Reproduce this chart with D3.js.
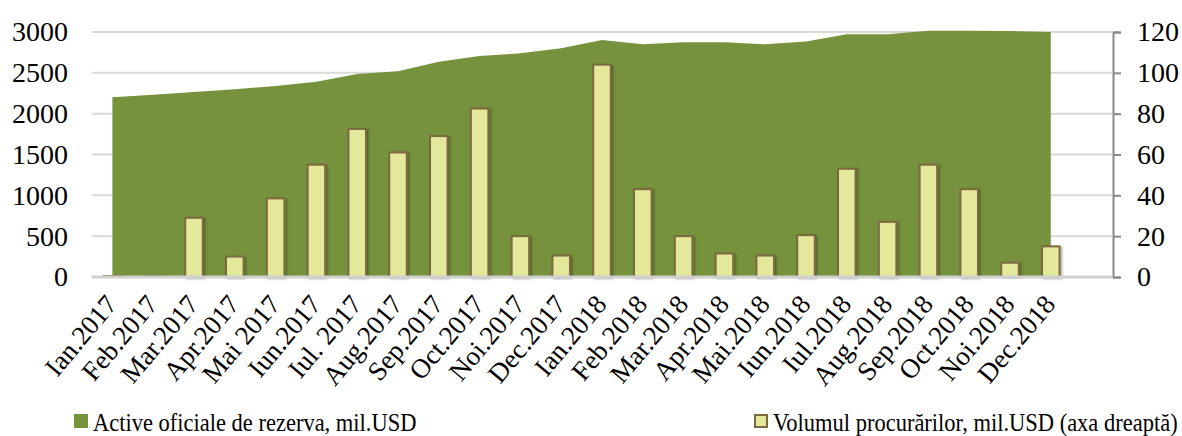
<!DOCTYPE html>
<html>
  <head>
    <meta charset="utf-8">
    <title>Active oficiale de rezerva</title>
    <script src="https://cdn.jsdelivr.net/npm/d3@7"></script>
    <style>
      body { margin: 0; background: #fff; }
      #chart { display: block; font-family: "Liberation Serif", serif; }
      .grid line { stroke: #d9d9d9; stroke-width: 2; }
      .area { fill: #76923c; }
      .bar { fill: #e4e89a; stroke: #7b6a40; stroke-width: 2; }
      .baseline { stroke: #d0d0d0; stroke-width: 3; }
      .axis text { font-family: "Liberation Serif", serif; font-size: 28px; fill: #000; }
      #xAxis text { font-size: 27px; }
      .axis .domain { display: none; }
      #rightAxis .domain { display: inline; stroke: #888; stroke-width: 2; }
      #rightAxis .tick line { stroke: #888; stroke-width: 2; }
      .legend text { font-size: 22.5px; fill: #000; }
    </style>
  </head>

  <body>
    <svg id="chart" width="1182" height="436">
      <defs>
        <filter id="shadow" x="-30%" y="-10%" width="160%" height="120%">
          <feDropShadow dx="1.5" dy="1" stdDeviation="1.2" flood-color="#000" flood-opacity="0.35"></feDropShadow>
        </filter>
      </defs>
      <g id="gridGroup" class="grid"></g>
      <path id="reserveArea" class="area"></path>
      <g id="barGroup"></g>
      <line id="baseline" class="baseline"></line>
      <g id="leftAxis" class="axis"></g>
      <g id="rightAxis" class="axis"></g>
      <g id="xAxis" class="axis"></g>
      <g id="legendGroup" class="legend"></g>
    </svg>

    <script>
      // data
      months = [
        "Ian.2017", "Feb.2017", "Mar.2017", "Apr.2017", "Mai 2017", "Iun.2017",
        "Iul. 2017", "Aug.2017", "Sep.2017", "Oct.2017", "Noi.2017", "Dec.2017",
        "Ian.2018", "Feb.2018", "Mar.2018", "Apr.2018", "Mai.2018", "Iun.2018",
        "Iul.2018", "Aug.2018", "Sep.2018", "Oct.2018", "Noi.2018", "Dec.2018"
      ];
      reserves = [
        2200, 2232, 2265, 2298, 2340, 2390, 2486, 2520, 2636, 2706, 2739, 2800,
        2902, 2849, 2873, 2873, 2849, 2885, 2971, 2971, 3016, 3016, 3012, 3000
      ];
      purchases = [
        0.5, 0.5, 29, 10, 38.5, 55, 72.5, 61, 69, 82.5, 20, 10.5,
        104, 43, 20, 11.5, 10.5, 20.5, 53, 27, 55, 43, 7, 15
      ];
      leftTicks = [0, 500, 1000, 1500, 2000, 2500, 3000];
      rightTicks = [0, 20, 40, 60, 80, 100, 120];
      legendLabels = [
        "Active oficiale de rezerva, mil.USD",
        "Volumul procurărilor, mil.USD (axa dreaptă)"
      ];

      // page elements
      chart = d3.select("#chart");
      margin = { top: 32, right: 70, bottom: 159, left: 92 };
      width = 1182;
      height = 436;

      // scales (one empty slot after Dec.2018, as in the original)
      x = d3.scaleBand()
        .domain(d3.range(months.length + 1))
        .range([margin.left, width - margin.right]);
      function cx(i) { return x(i) + x.bandwidth() / 2; }
      barWidth = x.bandwidth() * 0.43;
      yLeft = d3.scaleLinear()
        .domain([0, 3000])
        .range([height - margin.bottom, margin.top]);
      yRight = d3.scaleLinear()
        .domain([0, 120])
        .range([height - margin.bottom, margin.top]);

      // gridlines
      d3.select("#gridGroup")
        .selectAll("line")
        .data(leftTicks.slice(1))
        .join("line")
          .attr("x1", margin.left)
          .attr("x2", width - margin.right)
          .attr("y1", function(d) { return yLeft(d); })
          .attr("y2", function(d) { return yLeft(d); });

      // reserves area
      area = d3.area()
        .x(function(d, i) { return cx(i); })
        .y0(yLeft(0))
        .y1(function(d) { return yLeft(d); });
      d3.select("#reserveArea")
        .attr("d", area(reserves));

      // purchases bars
      d3.select("#barGroup")
        .selectAll("rect")
        .data(purchases)
        .join("rect")
          .attr("class", "bar")
          .attr("filter", "url(#shadow)")
          .attr("x", function(d, i) { return cx(i) - barWidth / 2; })
          .attr("width", barWidth)
          .attr("y", function(d) { return yRight(d); })
          .attr("height", function(d) { return yRight(0) - yRight(d); });

      d3.select("#baseline")
        .attr("x1", margin.left)
        .attr("x2", width - margin.right)
        .attr("y1", yLeft(0))
        .attr("y2", yLeft(0));

      // axes
      d3.select("#leftAxis")
        .attr("transform", "translate(" + margin.left + ", 0)")
        .call(d3.axisLeft(yLeft)
          .tickValues(leftTicks)
          .tickFormat(d3.format("d"))
          .tickSize(0)
          .tickPadding(24)
        );
      d3.select("#rightAxis")
        .attr("transform", "translate(" + (width - margin.right + 1) + ", 0)")
        .call(d3.axisRight(yRight)
          .tickValues(rightTicks)
          .tickFormat(d3.format("d"))
          .tickSize(8)
          .tickPadding(16)
        );
      d3.select("#xAxis")
        .attr("transform", "translate(0, " + yLeft(0) + ")")
        .call(d3.axisBottom(x)
          .tickFormat(function(i) { return months[i] || ""; })
          .tickSize(0)
        )
        .selectAll("text")
          .attr("text-anchor", "end")
          .attr("x", 0)
          .attr("y", 0)
          .attr("dy", 0)
          .attr("transform", "translate(6, 28) rotate(-50)");

      // legend (text a little taller than wide, as in the source picture)
      legendX = [74, 754];
      legend = d3.select("#legendGroup")
        .selectAll("g")
        .data(legendLabels)
        .join("g")
          .attr("transform", function(d, i) { return "translate(" + legendX[i] + ", 414)"; });
      legend.append("rect")
        .attr("x", function(d, i) { return i ? 1 : 0; })
        .attr("y", function(d, i) { return i ? 1 : 0; })
        .attr("width", function(d, i) { return i ? 12 : 14; })
        .attr("height", function(d, i) { return i ? 12 : 14; })
        .attr("fill", function(d, i) { return i ? "#e4e89a" : "#76923c"; })
        .attr("stroke", function(d, i) { return i ? "#7b6a40" : "none"; })
        .attr("stroke-width", 2);
      legend.append("text")
        .attr("transform", "translate(19, 17) scale(1, 1.15)")
        .text(function(d) { return d; });
    </script>
  </body>
</html>
